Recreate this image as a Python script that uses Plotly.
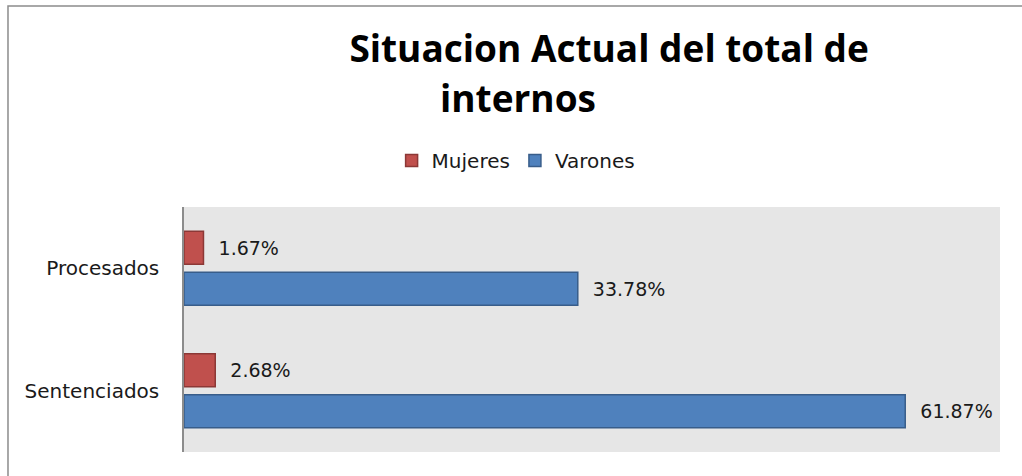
import plotly.graph_objects as go

# categories and values (percent of total inmates)
categorias = ["Procesados", "Sentenciados"]
mujeres = [1.67, 2.68]
varones = [33.78, 61.87]

titulo_1 = "Situacion Actual del total de"
titulo_2 = "internos"

fig = go.Figure()

fig.add_trace(go.Bar(
    y=categorias,
    x=mujeres,
    orientation="h",
    name="Mujeres",
    marker=dict(color="#C0504D", line=dict(color="#8C3836", width=1.5)),
    text=["\u00a0\u00a0" + f"{v:.2f}%" for v in mujeres],
    textposition="outside",
    cliponaxis=False,
))

fig.add_trace(go.Bar(
    y=categorias,
    x=varones,
    orientation="h",
    name="Varones",
    marker=dict(color="#4F81BD", line=dict(color="#385D8A", width=1.5)),
    text=["\u00a0\u00a0" + f"{v:.2f}%" for v in varones],
    textposition="outside",
    cliponaxis=False,
))

fig.update_traces(textfont=dict(family="DejaVu Sans", size=19, color="#1a1a1a"))

fig.update_layout(
    width=1022,
    height=476,
    margin=dict(l=184, r=22, t=207, b=24),
    paper_bgcolor="white",
    plot_bgcolor="#E6E6E6",
    barmode="group",
    bargap=0.33,
    bargroupgap=0.2,
    font=dict(family="DejaVu Sans", size=20, color="#1a1a1a"),
    title=dict(
        text=titulo_1,
        x=0.596, xanchor="center",
        y=0.896, yanchor="middle",
        font=dict(family="Open Sans", size=37, color="black", weight="bold"),
    ),
    legend=dict(
        orientation="h",
        x=0.407, xanchor="center",
        y=1.19, yanchor="middle",
        font=dict(family="DejaVu Sans", size=20, color="#1a1a1a"),
        traceorder="normal",
    ),
    showlegend=True,
)

fig.add_annotation(
    text=titulo_2,
    xref="paper", yref="paper",
    x=0.409, y=1.445,
    xanchor="center", yanchor="middle",
    showarrow=False,
    font=dict(family="Open Sans", size=37, color="black", weight="bold"),
)

fig.update_xaxes(
    range=[0, 70],
    showticklabels=False,
    showgrid=False,
    zeroline=False,
)

fig.update_yaxes(
    autorange="reversed",
    showgrid=False,
    showline=True,
    linecolor="#8C8C8C",
    linewidth=1.5,
    ticks="",
    ticklabelstandoff=19,
)

# outer chart frame (left and top border)
fig.add_shape(
    type="path",
    xref="paper", yref="paper",
    path="M -0.2157,-0.2 L -0.2157,1.82 L 1.2,1.82",
    line=dict(color="#8C8C8C", width=1.5),
)

fig.write_html(
    "out.html",
    config={"displayModeBar": False},
    post_script="document.body.style.margin='0';",
)
